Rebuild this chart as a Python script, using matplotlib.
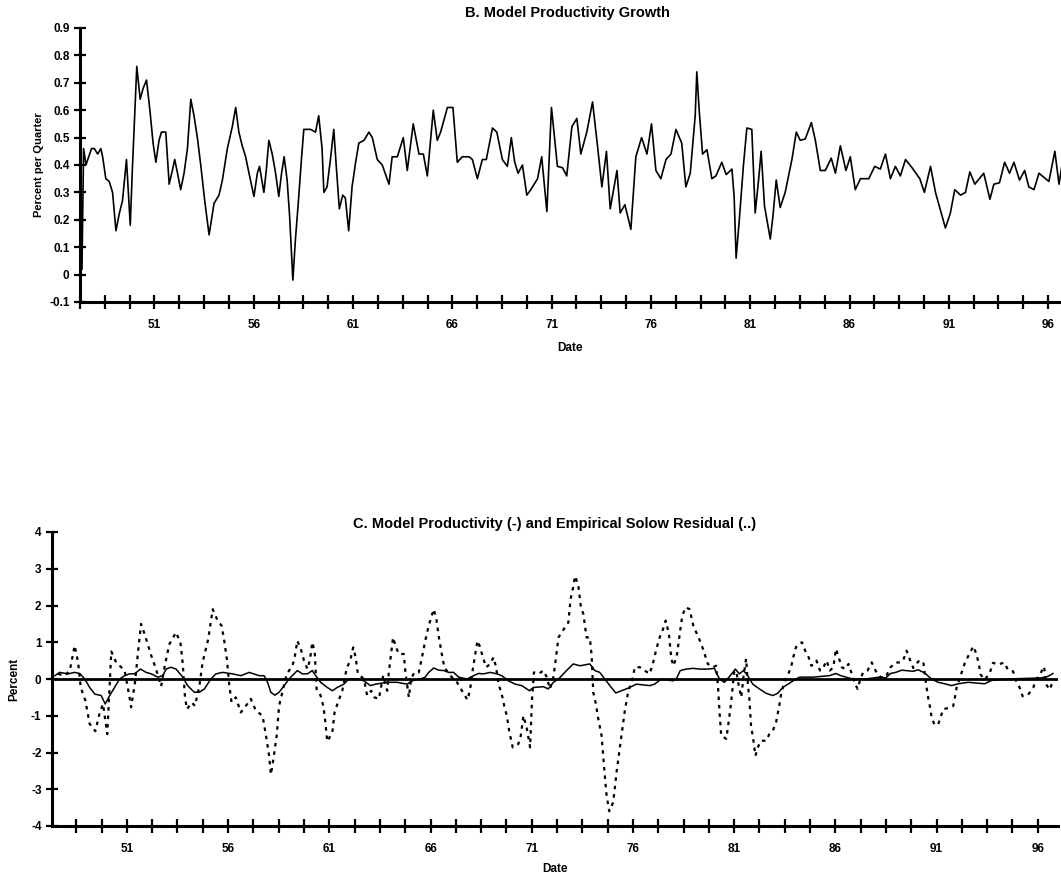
import numpy as np
import matplotlib
matplotlib.use("Agg")
import matplotlib.pyplot as plt
from matplotlib.ticker import FixedLocator, FuncFormatter

plt.rcParams['font.family'] = ['Liberation Sans', 'DejaVu Sans']
plt.rcParams['font.weight'] = 'bold'

# ---- panel B: model productivity growth (percent per quarter)
b_dates = [47.35, 47.43, 47.55, 47.83, 47.97, 48.14, 48.30, 48.39, 48.55, 48.72, 48.89, 49.06,
           49.22, 49.39, 49.59, 49.78, 49.89, 50.11, 50.28, 50.43, 50.60, 50.77, 50.93, 51.07,
           51.23, 51.35, 51.57, 51.74, 51.90, 52.02, 52.16, 52.32, 52.49, 52.66, 52.83, 52.99,
           53.16, 53.33, 53.53, 53.75, 54.00, 54.25, 54.42, 54.67, 54.92, 55.09, 55.25, 55.42,
           55.59, 55.76, 56.01, 56.18, 56.29, 56.51, 56.63, 56.76, 56.93, 57.10, 57.26, 57.40,
           57.53, 57.68, 57.80, 57.97, 58.10, 58.24, 58.40, 58.52, 58.69, 58.86, 59.11, 59.27,
           59.44, 59.53, 59.69, 59.86, 60.03, 60.15, 60.31, 60.48, 60.61, 60.78, 60.95, 61.13,
           61.29, 61.55, 61.80, 61.97, 62.22, 62.47, 62.81, 62.97, 63.23, 63.53, 63.73, 64.03,
           64.32, 64.54, 64.74, 65.04, 65.24, 65.41, 65.75, 66.03, 66.25, 66.50, 66.84, 67.01,
           67.26, 67.51, 67.71, 68.02, 68.24, 68.52, 68.77, 68.97, 69.14, 69.31, 69.53, 69.75,
           69.95, 70.29, 70.50, 70.76, 70.99, 71.09, 71.29, 71.55, 71.76, 72.02, 72.27, 72.47,
           72.77, 73.06, 73.31, 73.53, 73.76, 73.95, 74.29, 74.45, 74.69, 74.99, 75.24, 75.53,
           75.80, 76.03, 76.25, 76.50, 76.76, 77.01, 77.26, 77.55, 77.76, 77.98, 78.23, 78.31,
           78.43, 78.60, 78.82, 79.07, 79.27, 79.57, 79.79, 80.08, 80.19, 80.29, 80.45, 80.66,
           80.83, 81.08, 81.25, 81.42, 81.55, 81.72, 82.01, 82.14, 82.31, 82.51, 82.76, 83.10,
           83.32, 83.52, 83.77, 84.08, 84.28, 84.53, 84.78, 85.08, 85.29, 85.54, 85.82, 86.04,
           86.29, 86.55, 86.97, 87.27, 87.55, 87.81, 88.06, 88.31, 88.56, 88.82, 89.15, 89.54,
           89.77, 90.08, 90.33, 90.83, 91.08, 91.30, 91.59, 91.84, 92.06, 92.31, 92.76, 93.07,
           93.27, 93.55, 93.81, 94.06, 94.28, 94.56, 94.82, 95.03, 95.29, 95.54, 96.04, 96.34,
           96.55, 96.72]
b_growth = [0.02, 0.46, 0.40, 0.46, 0.46, 0.44, 0.46, 0.43, 0.35, 0.34, 0.30, 0.16,
            0.22, 0.27, 0.42, 0.18, 0.39, 0.76, 0.64, 0.68, 0.71, 0.60, 0.48, 0.41,
            0.49, 0.52, 0.52, 0.33, 0.38, 0.42, 0.37, 0.31, 0.37, 0.46, 0.64, 0.58,
            0.50, 0.40, 0.27, 0.145, 0.26, 0.29, 0.345, 0.46, 0.54, 0.61, 0.52, 0.47,
            0.43, 0.37, 0.285, 0.37, 0.395, 0.30, 0.38, 0.49, 0.44, 0.37, 0.285, 0.37,
            0.43, 0.345, 0.22, -0.02, 0.13, 0.26, 0.42, 0.53, 0.53, 0.53, 0.52, 0.58,
            0.46, 0.30, 0.32, 0.42, 0.53, 0.40, 0.24, 0.29, 0.28, 0.16, 0.32, 0.41,
            0.48, 0.49, 0.52, 0.50, 0.42, 0.40, 0.33, 0.43, 0.43, 0.50, 0.38, 0.55,
            0.44, 0.44, 0.36, 0.60, 0.49, 0.52, 0.61, 0.61, 0.41, 0.43, 0.43, 0.42,
            0.35, 0.42, 0.42, 0.535, 0.52, 0.42, 0.395, 0.50, 0.41, 0.37, 0.40, 0.29,
            0.31, 0.35, 0.43, 0.23, 0.61, 0.54, 0.395, 0.39, 0.36, 0.54, 0.57, 0.44,
            0.52, 0.63, 0.47, 0.32, 0.45, 0.24, 0.38, 0.225, 0.255, 0.165, 0.43, 0.50,
            0.44, 0.55, 0.38, 0.35, 0.42, 0.44, 0.53, 0.48, 0.32, 0.37, 0.58, 0.74,
            0.60, 0.44, 0.456, 0.35, 0.36, 0.41, 0.365, 0.385, 0.285, 0.06, 0.20, 0.40,
            0.535, 0.53, 0.225, 0.345, 0.45, 0.25, 0.13, 0.21, 0.345, 0.245, 0.30, 0.42,
            0.52, 0.49, 0.495, 0.555, 0.49, 0.38, 0.38, 0.425, 0.37, 0.47, 0.38, 0.43,
            0.31, 0.35, 0.35, 0.395, 0.385, 0.44, 0.35, 0.395, 0.36, 0.42, 0.39, 0.35,
            0.30, 0.395, 0.30, 0.17, 0.225, 0.31, 0.29, 0.30, 0.375, 0.33, 0.37, 0.275,
            0.33, 0.335, 0.41, 0.37, 0.41, 0.345, 0.38, 0.32, 0.31, 0.37, 0.34, 0.45,
            0.33, 0.41]

# ---- panel C: model productivity (solid), percent
c_model_dates = [47.44, 47.68, 48.09, 48.42, 48.67, 48.92, 49.16, 49.41, 49.73, 49.93, 50.15, 50.39,
                 50.64, 50.89, 51.13, 51.38, 51.67, 51.95, 52.20, 52.53, 52.77, 52.94, 53.18, 53.43,
                 53.76, 54.00, 54.33, 54.58, 54.83, 55.15, 55.40, 55.73, 56.22, 56.63, 57.04, 57.54,
                 57.78, 57.95, 58.11, 58.31, 58.52, 58.77, 59.01, 59.26, 59.42, 59.67, 59.92, 60.16,
                 60.33, 60.57, 60.90, 61.15, 61.39, 61.72, 61.97, 62.38, 62.71, 63.03, 63.28, 63.86,
                 64.35, 64.84, 65.17, 65.50, 65.74, 65.91, 66.16, 66.40, 66.65, 66.90, 67.14, 67.39,
                 67.80, 68.13, 68.37, 68.62, 68.95, 69.28, 69.52, 69.85, 70.18, 70.51, 70.89, 71.08,
                 71.58, 71.82, 72.07, 72.32, 72.48, 72.72, 73.05, 73.38, 73.87, 74.12, 74.36, 74.61,
                 74.86, 75.15, 75.43, 75.76, 76.17, 76.50, 76.83, 77.07, 77.40, 77.98, 78.14, 78.34,
                 78.64, 78.97, 79.29, 79.70, 80.03, 80.11, 80.28, 80.52, 80.85, 81.06, 81.26, 81.46,
                 81.67, 81.92, 82.25, 82.58, 82.91, 83.15, 83.40, 83.72, 83.97, 84.22, 84.88, 85.70,
                 86.03, 86.27, 86.85, 87.50, 88.16, 88.49, 88.73, 88.98, 89.28, 89.85, 90.10, 90.42,
                 90.75, 91.08, 91.41, 91.74, 92.07, 92.56, 93.38, 93.71, 94.53, 96.17, 96.50, 96.75]
c_model = [0.09, 0.18, 0.14, 0.18, 0.15, 0.0, -0.23, -0.41, -0.45, -0.68, -0.45, -0.23,
           0.0, 0.09, 0.14, 0.14, 0.27, 0.18, 0.14, 0.05, 0.09, 0.27, 0.32, 0.27,
           0.05, -0.18, -0.36, -0.36, -0.27, 0.0, 0.14, 0.18, 0.14, 0.09, 0.18, 0.09,
           0.09, -0.09, -0.36, -0.44, -0.36, -0.18, 0.0, 0.14, 0.23, 0.14, 0.14, 0.23,
           0.09, -0.09, -0.23, -0.32, -0.23, -0.14, 0.0, 0.0, -0.05, -0.18, -0.14, -0.09,
           -0.09, -0.14, -0.03, 0.0, 0.05, 0.18, 0.30, 0.24, 0.23, 0.18, 0.18, 0.05,
           0.0, 0.09, 0.15, 0.14, 0.18, 0.14, 0.09, -0.05, -0.14, -0.18, -0.32, -0.23,
           -0.21, -0.27, -0.09, 0.0, 0.09, 0.23, 0.41, 0.36, 0.41, 0.23, 0.18, 0.0,
           -0.18, -0.38, -0.32, -0.25, -0.14, -0.16, -0.18, -0.14, 0.0, -0.05, 0.0, 0.23,
           0.27, 0.29, 0.27, 0.27, 0.29, 0.18, 0.0, -0.09, 0.12, 0.27, 0.14, 0.23,
           0.09, -0.14, -0.27, -0.39, -0.45, -0.39, -0.23, -0.12, -0.03, 0.05, 0.05, 0.09,
           0.15, 0.09, 0.0, 0.0, 0.05, 0.03, 0.15, 0.18, 0.24, 0.21, 0.25, 0.16,
           0.0, -0.09, -0.13, -0.18, -0.13, -0.09, -0.13, -0.04, 0.0, 0.03, 0.07, 0.15]

# ---- panel C: empirical Solow residual (dotted), percent
c_solow_dates = [47.60, 47.93, 48.18, 48.42, 48.59, 48.72, 48.95, 49.16, 49.44, 49.66, 49.82, 50.03,
                 50.23, 50.47, 50.89, 51.13, 51.21, 51.41, 51.54, 51.70, 51.90, 52.20, 52.44, 52.69,
                 52.89, 53.10, 53.43, 53.65, 53.76, 53.87, 53.97, 54.20, 54.36, 54.58, 54.74, 54.91,
                 55.02, 55.24, 55.48, 55.68, 55.81, 55.94, 56.06, 56.17, 56.38, 56.63, 56.88, 57.12,
                 57.37, 57.70, 57.86, 58.03, 58.11, 58.19, 58.31, 58.40, 58.52, 58.68, 58.90, 59.18,
                 59.29, 59.42, 59.59, 59.75, 59.92, 60.05, 60.16, 60.28, 60.37, 60.57, 60.70, 60.77,
                 60.90, 61.15, 61.26, 61.43, 61.64, 61.85, 62.05, 62.18, 62.30, 62.41, 62.71, 62.87,
                 63.07, 63.23, 63.45, 63.66, 63.86, 63.94, 64.15, 64.27, 64.43, 64.68, 64.76, 64.93,
                 65.04, 65.20, 65.42, 65.63, 65.74, 65.91, 66.16, 66.29, 66.40, 66.57, 66.68, 66.98,
                 67.31, 67.50, 67.83, 67.96, 68.09, 68.21, 68.32, 68.42, 68.59, 68.75, 68.95, 69.11,
                 69.24, 69.36, 69.52, 69.64, 69.77, 69.90, 70.06, 70.34, 70.46, 70.59, 70.75, 70.92,
                 71.01, 71.11, 71.33, 71.58, 71.74, 71.90, 72.07, 72.20, 72.32, 72.48, 72.81, 72.92,
                 73.05, 73.14, 73.30, 73.42, 73.55, 73.71, 73.87, 73.96, 74.04, 74.17, 74.29, 74.45,
                 74.53, 74.61, 74.70, 74.83, 75.02, 75.10, 75.19, 75.30, 75.43, 75.60, 75.76, 75.98,
                 76.09, 76.34, 76.58, 76.83, 77.00, 77.16, 77.32, 77.49, 77.62, 77.78, 77.90, 78.01,
                 78.18, 78.31, 78.44, 78.60, 78.80, 79.00, 79.21, 79.46, 79.70, 79.95, 80.11, 80.20,
                 80.28, 80.36, 80.61, 80.74, 80.85, 81.01, 81.13, 81.23, 81.35, 81.46, 81.59, 81.68,
                 81.76, 81.84, 81.92, 82.05, 82.17, 82.33, 82.58, 82.74, 82.91, 83.07, 83.23, 83.32,
                 83.48, 83.64, 83.81, 83.92, 84.05, 84.19, 84.35, 84.51, 84.68, 84.81, 84.96, 85.07,
                 85.24, 85.37, 85.57, 85.73, 85.90, 86.03, 86.19, 86.32, 86.49, 86.65, 86.81, 86.98,
                 87.10, 87.21, 87.37, 87.59, 87.80, 88.03, 88.24, 88.49, 88.73, 88.98, 89.22, 89.36,
                 89.52, 89.69, 89.85, 90.10, 90.34, 90.51, 90.59, 90.67, 90.75, 90.89, 91.08, 91.21,
                 91.33, 91.58, 91.82, 91.90, 91.99, 92.23, 92.40, 92.60, 92.82, 92.98, 93.09, 93.18,
                 93.38, 93.63, 93.79, 94.04, 94.34, 94.53, 94.78, 94.94, 95.11, 95.25, 95.52, 95.77,
                 95.93, 96.14, 96.31, 96.42, 96.59, 96.75]
c_solow = [0.14, 0.09, 0.23, 0.91, 0.45, -0.23, -0.59, -1.22, -1.42, -0.91, -0.68, -1.5,
           0.75, 0.45, 0.23, -0.5, -0.77, -0.05, 0.68, 1.5, 1.18, 0.64, 0.27, -0.2,
           0.41, 0.95, 1.27, 0.97, 0.41, -0.5, -0.82, -0.64, -0.73, -0.2, 0.45, 0.84,
           1.09, 1.9, 1.59, 1.45, 1.04, 0.54, -0.18, -0.63, -0.5, -0.91, -0.73, -0.54,
           -0.86, -1.0, -1.5, -2.1, -2.6, -2.36, -1.9, -1.54, -0.73, -0.36, 0.14, 0.36,
           0.59, 1.04, 0.82, 0.5, 0.27, 0.54, 1.0, 0.73, -0.27, -0.45, -0.73, -1.0,
           -1.7, -1.45, -0.91, -0.63, -0.32, 0.27, 0.54, 0.86, 0.59, 0.14, 0.0, -0.45,
           -0.32, -0.5, -0.54, 0.09, -0.32, 0.18, 1.13, 0.91, 0.68, 0.68, 0.18, -0.5,
           0.0, 0.18, 0.18, 0.73, 1.04, 1.45, 1.9, 1.63, 1.18, 0.64, 0.32, 0.09,
           -0.09, -0.27, -0.57, -0.27, 0.27, 0.68, 1.04, 0.91, 0.59, 0.32, 0.41, 0.59,
           0.32, -0.14, -0.41, -0.73, -1.0, -1.45, -1.86, -1.77, -1.54, -1.0, -1.32, -1.86,
           -0.59, 0.18, 0.14, 0.23, 0.05, -0.27, 0.05, 0.59, 1.13, 1.27, 1.54, 2.18,
           2.5, 2.8, 2.55, 2.0, 1.77, 1.13, 1.13, 0.64, -0.36, -0.68, -1.09, -1.54,
           -2.09, -2.63, -3.18, -3.6, -3.36, -3.0, -2.54, -2.09, -1.54, -0.86, -0.36, 0.0,
           0.32, 0.32, 0.23, 0.14, 0.45, 0.82, 1.13, 1.36, 1.59, 1.22, 0.54, 0.36,
           0.68, 1.22, 1.72, 1.95, 1.9, 1.41, 1.18, 0.82, 0.41, 0.32, 0.36, -0.18,
           -0.91, -1.54, -1.63, -1.13, -0.64, 0.23, 0.14, -0.18, -0.5, 0.05, 0.55, -0.14,
           -0.59, -1.32, -1.54, -2.09, -1.86, -1.68, -1.68, -1.5, -1.41, -1.18, -0.73, -0.41,
           -0.09, 0.09, 0.32, 0.59, 0.86, 0.95, 1.0, 0.77, 0.59, 0.36, 0.41, 0.5,
           0.23, 0.27, 0.5, 0.23, 0.32, 0.82, 0.54, 0.32, 0.27, 0.41, 0.14, -0.14,
           -0.27, -0.05, 0.18, 0.23, 0.45, 0.18, 0.05, 0.05, 0.32, 0.45, 0.45, 0.52,
           0.77, 0.52, 0.3, 0.48, 0.48, -0.24, -0.52, -0.74, -1.02, -1.24, -1.24, -1.02,
           -0.82, -0.79, -0.74, -0.52, -0.24, 0.16, 0.44, 0.66, 0.89, 0.66, 0.39, 0.12,
           -0.02, 0.16, 0.44, 0.39, 0.45, 0.25, 0.21, -0.06, -0.24, -0.47, -0.43, -0.24,
           -0.02, 0.16, 0.34, -0.15, -0.29, -0.06]

year_labels = [51, 56, 61, 66, 71, 76, 81, 86, 91, 96]

fig = plt.figure(figsize=(10.61, 8.81), dpi=100)
W, H = 1061.0, 881.0

def style_axes(ax):
    for side in ['top', 'right']:
        ax.spines[side].set_visible(False)
    ax.spines['left'].set_linewidth(2.2)
    ax.spines['bottom'].set_linewidth(2.2)
    ax.xaxis.set_major_locator(FixedLocator(year_labels))
    ax.xaxis.set_minor_locator(FixedLocator(np.arange(47.25, 97.5, 1.25)))
    ax.xaxis.set_major_formatter(FuncFormatter(lambda v, p: f'{int(round(v))}'))
    ax.tick_params(axis='x', which='both', direction='inout', length=10, width=1.6, pad=7,
                   labelsize=8.5)
    ax.tick_params(axis='y', direction='inout', length=9, width=1.6, pad=3, labelsize=8.5)
    for lab in ax.get_xticklabels() + ax.get_yticklabels():
        lab.set_fontweight('bold')

# panel B
axb = fig.add_axes([80 / W, 1 - 302 / H, (W - 80) / W, (302 - 28) / H])
axb.plot(b_dates, b_growth, color='black', lw=1.2)
axb.set_xlim(47.25, 96.65)
axb.set_ylim(-0.1, 0.9)
axb.yaxis.set_major_locator(FixedLocator(np.arange(-0.1, 0.95, 0.1)))
axb.yaxis.set_major_formatter(FuncFormatter(lambda v, p: '0' if abs(v) < 1e-9 else f'{v:.1f}'))
style_axes(axb)
axb.set_ylabel('Percent per Quarter', fontsize=8, fontweight='bold', labelpad=4)
axb.set_xlabel('Date', fontsize=8.5, fontweight='bold', labelpad=8)
fig.text(567 / W, 1 - 13 / H, 'B. Model Productivity Growth', ha='center', va='center',
         fontsize=10.5, fontweight='bold')

# panel C
axc = fig.add_axes([52 / W, 1 - 826 / H, (1058 - 52) / W, (826 - 532) / H])
axc.axhline(0, color='black', lw=2.0, zorder=1)
axc.plot(c_model_dates, c_model, color='black', lw=1.1, zorder=3)
axc.plot(c_solow_dates, c_solow, color='black', lw=1.6, linestyle=(0, (1.6, 2.2)), zorder=2)
axc.set_xlim(47.3, 97.0)
axc.set_ylim(-4, 4)
axc.yaxis.set_major_locator(FixedLocator(np.arange(-4, 5, 1)))
axc.yaxis.set_major_formatter(FuncFormatter(lambda v, p: f'{int(round(v))}'))
style_axes(axc)
axc.set_ylabel('Percent', fontsize=8.5, fontweight='bold', labelpad=8)
axc.set_xlabel('Date', fontsize=8.5, fontweight='bold', labelpad=6)
fig.text(555 / W, 1 - 524 / H, 'C. Model Productivity (-) and Empirical Solow Residual (..)',
         ha='center', va='center', fontsize=10.5, fontweight='bold')

fig.savefig('out.png', dpi=100)
